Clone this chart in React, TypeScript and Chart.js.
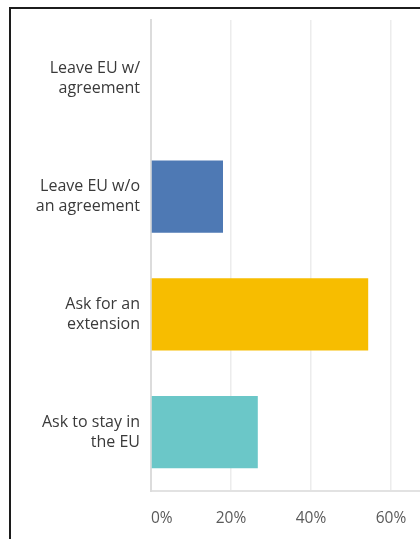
import React, { useEffect, useRef } from "react";
import { Chart, registerables } from "chart.js";

Chart.register(...registerables);

const categories: string[][] = [
  ["Leave EU w/", "agreement"],
  ["Leave EU w/o", "an agreement"],
  ["Ask for an", "extension"],
  ["Ask to stay in", "the EU"],
];
const values: number[] = [0, 18, 54.3, 26.7];
const barColors: string[] = ["#4e79b4", "#4e79b4", "#f7bd00", "#6bc7c8"];
const xMin = 0;
const xMax = 100;
const xStep = 20;

export default function App() {
  const canvasRef = useRef<HTMLCanvasElement | null>(null);

  useEffect(() => {
    if (!canvasRef.current) return;
    const chart = new Chart(canvasRef.current, {
      type: "bar",
      data: {
        labels: categories,
        datasets: [
          {
            data: values,
            backgroundColor: barColors,
            borderColor: barColors,
            borderWidth: 0,
            categoryPercentage: 1,
            barPercentage: 0.615,
          },
        ],
      },
      options: {
        indexAxis: "y",
        responsive: false,
        animation: false,
        layout: { padding: { top: 20, right: 49, left: 0, bottom: 0 } },
        plugins: { legend: { display: false }, tooltip: { enabled: false } },
        scales: {
          x: {
            min: xMin,
            max: xMax,
            afterFit: (scale: any) => {
              scale.height = 48;
              scale.paddingLeft = 0;
              scale.paddingRight = 0;
            },
            ticks: {
              stepSize: xStep,
              callback: (v: any) => v + "%",
              align: "inner",
              color: "#5a5a5a",
              padding: 18,
              font: { family: "'Open Sans', sans-serif", size: 15.5 },
            },
            grid: {
              color: "#ececec",
              lineWidth: 1.5,
              drawTicks: false,
            },
            border: { display: true, color: "#e2e2e2", width: 2 },
          },
          y: {
            afterFit: (scale: any) => {
              scale.width = 151;
              scale.paddingTop = 0;
              scale.paddingBottom = 0;
            },
            ticks: {
              color: "#3a3a3a",
              padding: 11,
              font: { family: "'Open Sans', sans-serif", size: 16, lineHeight: 1.25 },
            },
            grid: { display: false, drawTicks: false },
            border: { display: true, color: "#dcdcdc", width: 2 },
          },
        },
      },
    });
    return () => chart.destroy();
  }, []);

  return (
    <div
      style={{
        position: "fixed",
        left: 0,
        top: 0,
        width: 420,
        height: 539,
        overflow: "hidden",
        background: "#fff",
      }}
    >
      <div
        style={{
          position: "absolute",
          left: 9,
          top: 7,
          width: 700,
          height: 700,
          border: "2px solid #1c1c1c",
          boxSizing: "border-box",
        }}
      />
      <canvas
        ref={canvasRef}
        width={600}
        height={539}
        style={{ position: "absolute", left: 0, top: 0, width: 600, height: 539 }}
      />
    </div>
  );
}
